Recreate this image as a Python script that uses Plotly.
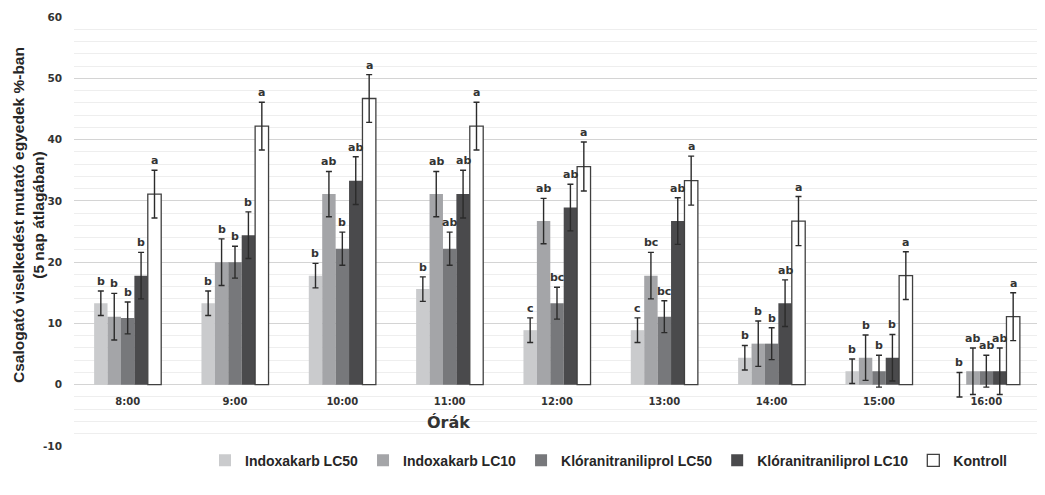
import plotly.graph_objects as go

hours = ["8:00", "9:00", "10:00", "11:00", "12:00", "13:00", "14:00", "15:00", "16:00"]
series_names = ["Indoxakarb LC50", "Indoxakarb LC10", "Klóranitraniliprol LC50",
                "Klóranitraniliprol LC10", "Kontroll"]

indox_lc50 = [13.3, 13.3, 17.8, 15.6, 8.9, 8.9, 4.4, 2.2, 0.0]
indox_lc10 = [11.1, 20.0, 31.1, 31.1, 26.7, 17.8, 6.7, 4.4, 2.2]
klor_lc50 = [10.9, 20.0, 22.2, 22.2, 13.3, 11.1, 6.7, 2.2, 2.2]
klor_lc10 = [17.8, 24.4, 33.3, 31.1, 28.9, 26.7, 13.3, 4.4, 2.2]
kontroll = [31.1, 42.2, 46.7, 42.2, 35.6, 33.3, 26.7, 17.8, 11.1]

err_indox_lc50 = [2.0, 2.0, 2.0, 2.0, 2.0, 2.0, 2.0, 2.0, 2.0]
err_indox_lc10 = [3.8, 3.8, 3.7, 3.7, 3.7, 3.8, 3.7, 3.7, 3.8]
err_klor_lc50 = [2.6, 2.6, 2.7, 2.7, 2.6, 2.6, 2.6, 2.6, 2.6]
err_klor_lc10 = [3.8, 3.8, 3.9, 3.9, 3.8, 3.8, 3.8, 3.8, 3.8]
err_kontroll = [3.9, 3.9, 3.9, 3.9, 4.0, 4.0, 4.0, 3.9, 3.9]

let_indox_lc50 = ["b", "b", "b", "b", "c", "c", "b", "b", "b"]
let_indox_lc10 = ["b", "b", "ab", "ab", "ab", "bc", "b", "b", "ab"]
let_klor_lc50 = ["b", "b", "b", "ab", "bc", "bc", "b", "b", "ab"]
let_klor_lc10 = ["b", "b", "ab", "ab", "ab", "ab", "ab", "b", "ab"]
let_kontroll = ["a", "a", "a", "a", "a", "a", "a", "a", "a"]

y_ticks = [60, 50, 40, 30, 20, 10, 0, -10]

values = [indox_lc50, indox_lc10, klor_lc50, klor_lc10, kontroll]
errors = [err_indox_lc50, err_indox_lc10, err_klor_lc50, err_klor_lc10, err_kontroll]
letters = [let_indox_lc50, let_indox_lc10, let_klor_lc50, let_klor_lc10, let_kontroll]
colors = ["#cacbcd", "#a4a5a8", "#77787b", "#4a4a4c", "#ffffff"]
line_colors = ["rgba(0,0,0,0)"] * 4 + ["#404040"]
line_widths = [0, 0, 0, 0, 1.3]

# the page body has an 8px default margin, so the figure is made 8px smaller
PAGE = 8
W, H = 1045 - PAGE, 495 - PAGE
ML, MR, MT, MB = 74 - PAGE, 5, 17 - PAGE, 49
BARGAP = 0.375
plot_w = W - ML - MR
plot_h = H - MT - MB
cat_w = plot_w / len(hours)
bar_w = cat_w * (1 - BARGAP) / len(series_names)


def px_x(x):
    return (x - PAGE - ML) / plot_w


def px_y(y):
    return (H - MB - (y - PAGE)) / plot_h


fig = go.Figure()
for i, name in enumerate(series_names):
    fig.add_trace(go.Bar(
        x=hours, y=values[i], name=name,
        marker=dict(color=colors[i], line=dict(color=line_colors[i], width=line_widths[i])),
        error_y=dict(type="data", array=errors[i], visible=True,
                     color="#2b2b2b", thickness=1.4, width=3),
    ))

ann = []
for i in range(len(series_names)):
    shift = (i - (len(series_names) - 1) / 2) * bar_w
    for j, h in enumerate(hours):
        ann.append(dict(
            x=h, y=values[i][j] + errors[i][j], xref="x", yref="y",
            text=letters[i][j], showarrow=False, xshift=shift, yshift=1,
            yanchor="bottom",
            font=dict(family="DejaVu Sans", size=11, color="#333333", weight="bold"),
        ))

ann.append(dict(
    x=px_x(448), y=-6.2, xref="paper", yref="y", text="Órák",
    showarrow=False, font=dict(family="DejaVu Sans", size=16, color="#333333", weight="bold"),
))
ann.append(dict(
    x=px_x(28), y=px_y(215), xref="paper", yref="paper",
    xanchor="center", yanchor="middle",
    text="Csalogató viselkedést mutató egyedek %-ban<br>(5 nap átlagában)",
    textangle=-90, showarrow=False,
    font=dict(family="Liberation Sans", size=15.5, color="#262626", weight="bold"),
))

zero_pos = (0 - (-10)) / (60 - (-10))

fig.update_layout(
    width=W, height=H,
    margin=dict(l=ML, r=MR, t=MT, b=MB, autoexpand=False),
    paper_bgcolor="white", plot_bgcolor="white",
    barmode="group", bargap=BARGAP, bargroupgap=0,
    annotations=ann,
    showlegend=True,
    legend=dict(orientation="h", x=px_x(205), xanchor="left",
                y=0.003, yanchor="top",
                font=dict(family="Liberation Sans", size=14, color="#262626", weight="bold"),
                traceorder="normal", itemwidth=30),
    xaxis=dict(
        anchor="free", position=zero_pos,
        showgrid=False, showline=False, zeroline=False,
        ticks="", ticklabelstandoff=9,
        tickfont=dict(family="DejaVu Sans", size=10, color="#333333", weight="bold"),
    ),
    yaxis=dict(
        range=[-10, 60], tickvals=y_ticks, ticktext=[str(v) for v in y_ticks],
        showgrid=True, gridcolor="#d4d4d4", gridwidth=1,
        minor=dict(dtick=2, showgrid=True, gridcolor="#eeeeee", gridwidth=1, tick0=0),
        zeroline=False, showline=False, ticks="", ticklabelstandoff=11,
        tickfont=dict(family="DejaVu Sans", size=10.5, color="#333333", weight="bold"),
    ),
)

fig.write_html("out.html")
